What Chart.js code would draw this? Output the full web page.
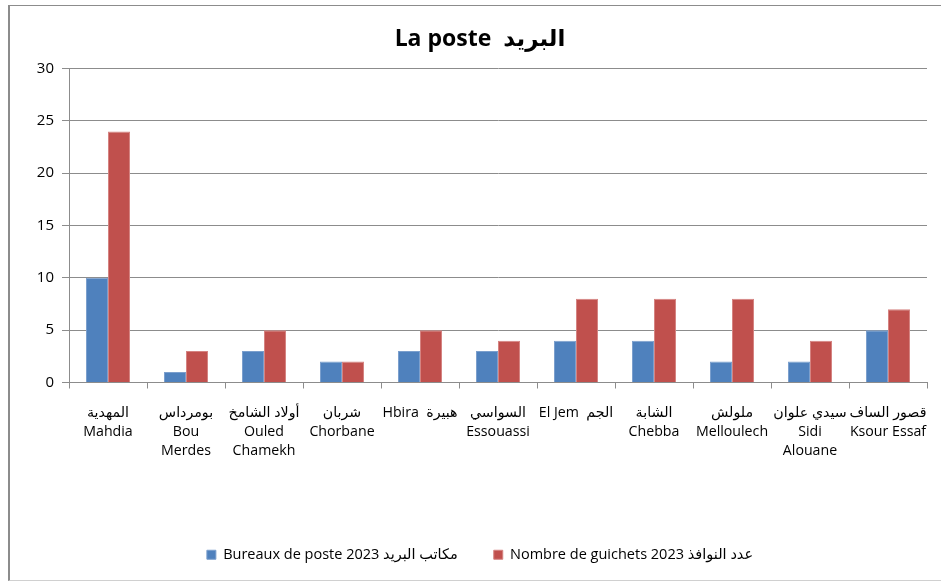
<!DOCTYPE html>
<html>
<head>
<meta charset="utf-8">
<script src="https://cdn.jsdelivr.net/npm/chart.js@4/dist/chart.umd.min.js"></script>
<style>
  html, body { margin: 0; padding: 0; background: #fff; overflow: hidden; }
  #cadre { position: absolute; left: 8px; top: 5px; width: 960px; height: 574px;
           border: 1px solid #8c8c8c; border-left-width: 2px; border-bottom-color: #d0d0d0; }
  #wrap { position: absolute; left: 0; top: 0; width: 941px; height: 582px; }
</style>
</head>
<body>
<div id="cadre"></div>
<div id="wrap"><canvas id="graphe"></canvas></div>
<script>
// délégations (arabe / français)
const delegations = [
  ['المهدية', 'Mahdia'],
  ['بومرداس', 'Bou', 'Merdes'],
  ['أولاد الشامخ', 'Ouled', 'Chamekh'],
  ['شربان', 'Chorbane'],
  ['Hbira  هبيرة'],
  ['السواسي', 'Essouassi'],
  ['El Jem  الجم'],
  ['الشابة', 'Chebba'],
  ['ملولش', 'Melloulech'],
  ['سيدي علوان', 'Sidi', 'Alouane'],
  ['قصور الساف', 'Ksour Essaf']
];
const bureaux  = [10, 1, 3, 2, 3, 3, 4, 4, 2, 2, 5];
const guichets = [24, 3, 5, 2, 5, 4, 8, 8, 8, 4, 7];
const yTicks   = [0, 5, 10, 15, 20, 25, 30];

const police = "'Open Sans', 'DejaVu Sans', sans-serif";
const gris = '#8c8c8c';

new Chart(document.getElementById('graphe'), {
  type: 'bar',
  data: {
    labels: delegations,
    datasets: [
      { label: 'Bureaux de poste 2023 مكاتب البريد', data: bureaux,
        backgroundColor: '#4f81bd', borderColor: '#7b9fcd', borderWidth: 1 },
      { label: 'Nombre de guichets 2023 عدد النوافذ', data: guichets,
        backgroundColor: '#c0504d', borderColor: '#d58381', borderWidth: 1 }
    ]
  },
  options: {
    responsive: true,
    maintainAspectRatio: false,
    animation: false,
    datasets: { bar: { categoryPercentage: 0.564, barPercentage: 1 } },
    layout: { padding: { left: 33, right: 14, top: 0, bottom: 10 } },
    plugins: {
      title: {
        display: true,
        text: 'La poste  البريد',
        color: '#000',
        font: { family: police, size: 23, weight: 'bold' },
        padding: { top: 26, bottom: 15 }
      },
      legend: {
        position: 'bottom',
        labels: {
          color: '#000',
          font: { family: police, size: 14.5 },
          boxWidth: 9, boxHeight: 9,
          padding: 36
        }
      },
      tooltip: { enabled: false }
    },
    scales: {
      x: {
        grid: { display: true, drawOnChartArea: false, color: gris, tickLength: 6, offset: true },
        border: { color: gris },
        ticks: { color: '#000', font: { family: police, size: 14.2, lineHeight: 1.33 }, padding: 15, maxRotation: 0, autoSkip: false },
        // les libellés débordent un peu, on garde la zone de tracé pleine largeur
        afterFit: s => { s.height = 129; s.paddingLeft = 0; s.paddingRight = 0; }
      },
      y: {
        min: 0, max: 30,
        afterBuildTicks: s => { s.ticks = yTicks.map(v => ({ value: v })); },
        grid: { color: gris, tickLength: 7 },
        border: { color: gris },
        ticks: { color: '#000', font: { family: police, size: 15 }, padding: 8 },
        afterFit: s => { s.width = 36; }
      }
    }
  }
});
</script>
</body>
</html>
